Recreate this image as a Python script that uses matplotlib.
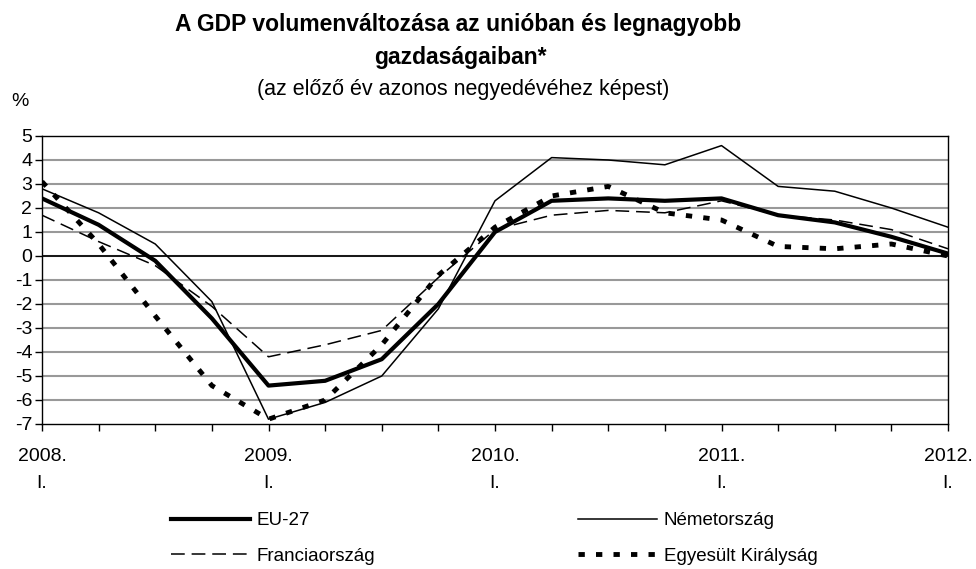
import matplotlib
matplotlib.use("Agg")
import matplotlib.pyplot as plt
import numpy as np

plt.rcParams['font.family'] = ['Liberation Sans', 'DejaVu Sans']
plt.rcParams['axes.unicode_minus'] = False

# quarterly data 2008 Q1 .. 2012 Q1
quarters = np.arange(17)
year_labels = ['2008.\nI.', '2009.\nI.', '2010.\nI.', '2011.\nI.', '2012.\nI.']

eu27 = [2.4, 1.3, -0.2, -2.6, -5.4, -5.2, -4.3, -2.0, 1.0, 2.3, 2.4, 2.3, 2.4, 1.7, 1.4, 0.8, 0.1]
nemet = [2.8, 1.8, 0.5, -1.9, -6.8, -6.1, -5.0, -2.2, 2.3, 4.1, 4.0, 3.8, 4.6, 2.9, 2.7, 2.0, 1.2]
francia = [1.7, 0.6, -0.4, -2.1, -4.2, -3.7, -3.1, -0.9, 1.1, 1.7, 1.9, 1.8, 2.3, 1.7, 1.5, 1.1, 0.3]
egyesult = [3.1, 0.5, -2.5, -5.4, -6.8, -6.0, -3.7, -0.8, 1.2, 2.5, 2.9, 1.8, 1.5, 0.4, 0.3, 0.5, 0.0]

fig = plt.figure(figsize=(9.76, 5.69), dpi=100)
ax = fig.add_axes([42/976, 1 - 424/569, (948-42)/976, (424-136)/569])

for v in range(-6, 5):
	ax.axhline(v, color='#999999', lw=1.5, zorder=1)
ax.axhline(0, color='black', lw=1.2, zorder=2)

l_eu, = ax.plot(quarters, eu27, color='black', lw=3.0, label='EU-27', zorder=5)
l_de, = ax.plot(quarters, nemet, color='black', lw=1.1, label='Németország', zorder=4)
l_fr, = ax.plot(quarters, francia, color='black', lw=1.1, dashes=(9, 4.5), label='Franciaország', zorder=4)
l_uk, = ax.plot(quarters, egyesult, color='black', lw=3.5, dashes=(1.3, 2.3), label='Egyesült Királyság', zorder=4)

ax.set_xlim(0, 16)
ax.set_ylim(-7, 5)
ax.set_yticks(range(-7, 6))
ax.set_xticks([0, 4, 8, 12, 16])
ax.set_xticks(quarters, minor=True)
ax.set_xticklabels(year_labels, linespacing=1.8)
ax.tick_params(axis='both', which='both', direction='out', length=5, width=1, labelsize=14, color='black')
ax.tick_params(axis='x', which='major', pad=12)
ax.tick_params(axis='y', pad=2)

for s in ax.spines.values():
	s.set_linewidth(1)
	s.set_color('black')

fig.text(458/976, 1 - 25/569, 'A GDP volumenváltozása az unióban és legnagyobb', ha='center', va='center', fontsize=16.5, fontweight='bold')
fig.text(460/976, 1 - 57/569, 'gazdaságaiban*', ha='center', va='center', fontsize=16.5, fontweight='bold')
fig.text(463/976, 1 - 90/569, '(az előző év azonos negyedévéhez képest)', ha='center', va='center', fontsize=15.5)
fig.text(20/976, 1 - 102/569, '%', ha='center', va='center', fontsize=14)

# legend filled row by row: EU-27, Németország / Franciaország, Egyesült Királyság
fig.legend([l_eu, l_fr, l_de, l_uk], [l_eu.get_label(), l_fr.get_label(), l_de.get_label(), l_uk.get_label()],
	loc='upper left', bbox_to_anchor=(171/976, 1 - 512/569), ncol=2, frameon=False,
	fontsize=13.5, handlelength=4.2, handletextpad=0.37, columnspacing=10.8, labelspacing=1.0,
	borderpad=0, borderaxespad=0)

fig.savefig('out.png', dpi=100)
